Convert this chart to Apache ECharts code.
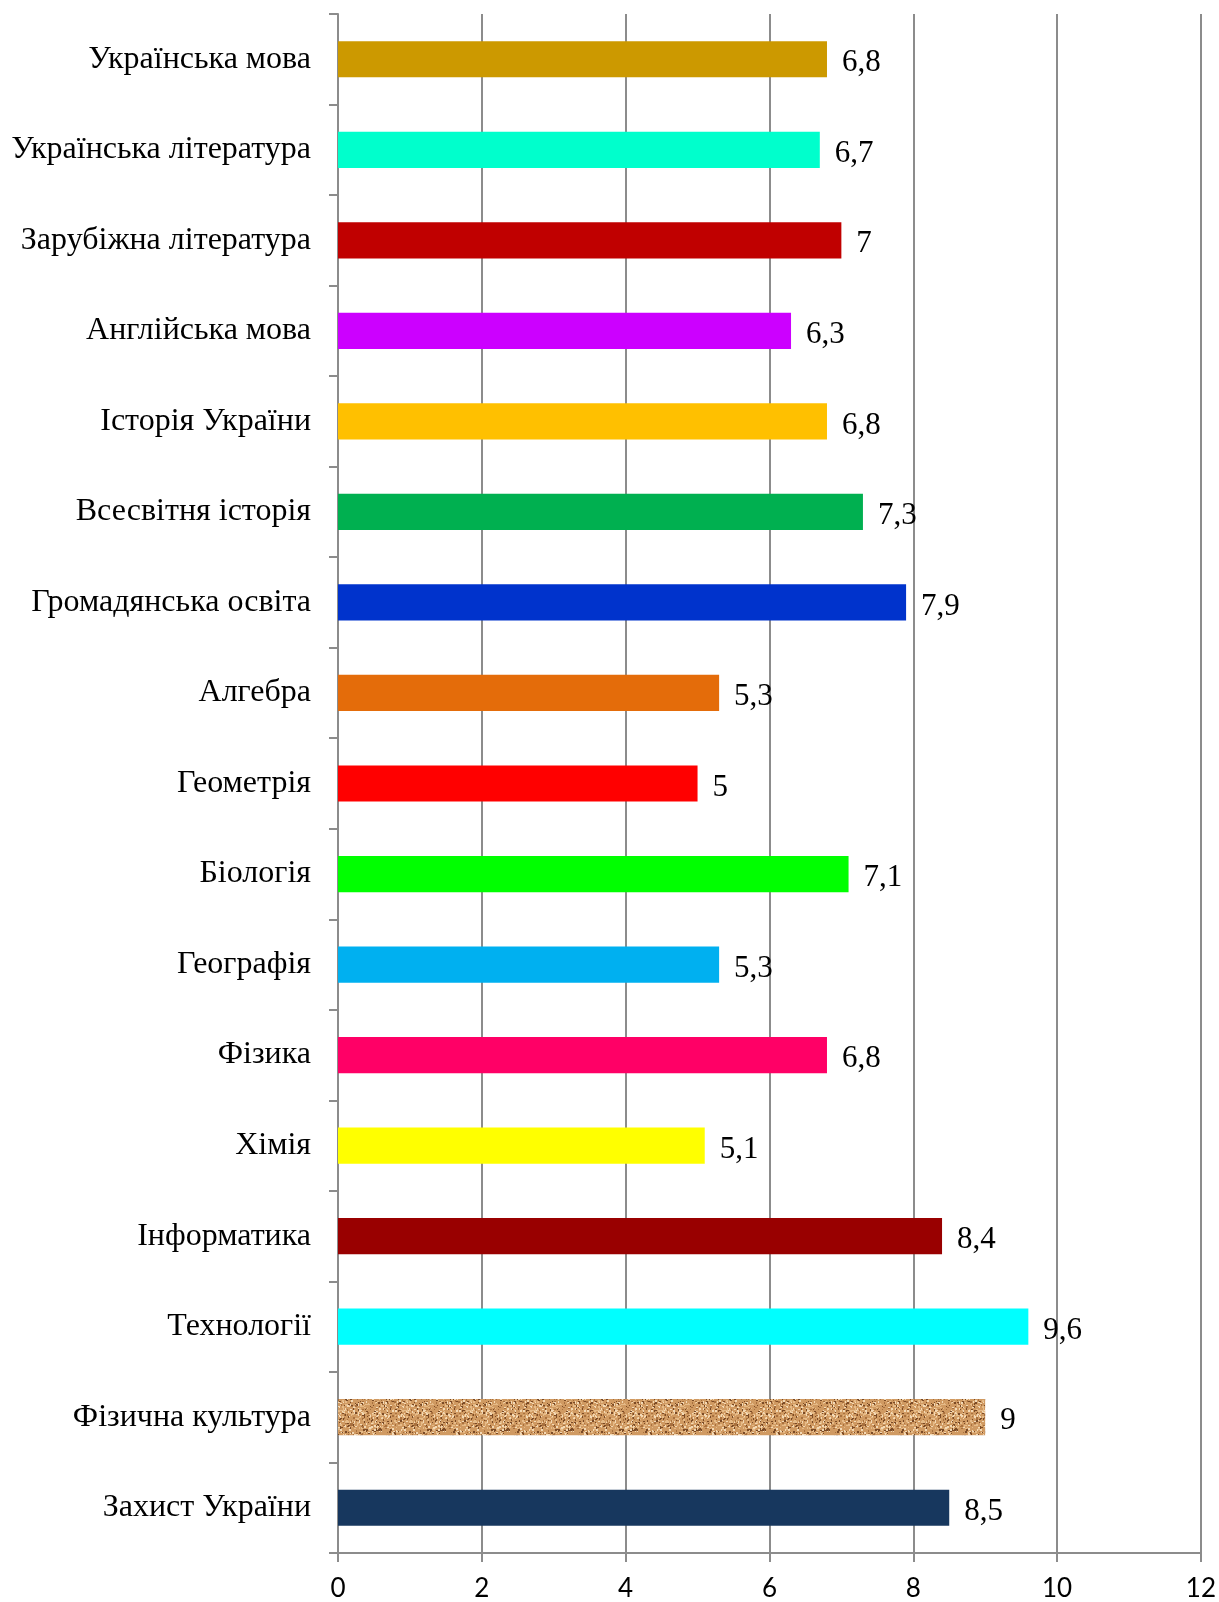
<!DOCTYPE html>
<html>
<head>
<meta charset="utf-8">
<script src="https://cdn.jsdelivr.net/npm/echarts@6/dist/echarts.min.js"></script>
<style>
  html, body { margin: 0; padding: 0; background: #fff; }
  #chart { width: 1219px; height: 1602px; }
</style>
</head>
<body>
<div id="chart"></div>
<script>
const subjects = ['Українська мова', 'Українська література', 'Зарубіжна література', 'Англійська мова',
  'Історія України', 'Всесвітня історія', 'Громадянська освіта', 'Алгебра', 'Геометрія', 'Біологія',
  'Географія', 'Фізика', 'Хімія', 'Інформатика', 'Технології', 'Фізична культура', 'Захист України']
const scores = [6.8, 6.7, 7, 6.3, 6.8, 7.3, 7.9, 5.3, 5, 7.1, 5.3, 6.8, 5.1, 8.4, 9.6, 9, 8.5]
const barColors = ['#cc9900', '#00ffcc', '#c00000', '#cc00ff', '#ffc000', '#00b050', '#0033cc', '#e46c0a',
  '#ff0000', '#00ff00', '#00b0f0', '#ff0066', '#ffff00', '#990000', '#00ffff', 'cork', '#17375e']
const xTicks = [0, 2, 4, 6, 8, 10, 12]

// cork-like texture for "Фізична культура"
function corkPattern() {
  const c = document.createElement('canvas')
  c.width = 64; c.height = 64
  const ctx = c.getContext('2d')
  ctx.fillStyle = '#d09a62'
  ctx.fillRect(0, 0, 64, 64)
  let s = 12345
  const rnd = () => { s = (s * 1103515245 + 12345) & 0x7fffffff; return s / 0x7fffffff }
  for (let i = 0; i < 900; i++) {
    const x = Math.floor(rnd() * 64), y = Math.floor(rnd() * 64)
    const r = rnd()
    ctx.fillStyle = r < 0.25 ? '#7a4a26' : r < 0.45 ? '#a8703e' : r < 0.75 ? '#e6bb88' : '#f3d9b5'
    ctx.fillRect(x, y, 1 + Math.floor(rnd() * 2), 1 + Math.floor(rnd() * 2))
  }
  return c
}

const cork = corkPattern()
const chart = echarts.init(document.getElementById('chart'))
chart.setOption({
  backgroundColor: '#ffffff',
  animation: false,
  grid: { left: 338, right: 18, top: 14, bottom: 48, containLabel: false },
  xAxis: {
    type: 'value',
    min: 0,
    max: 12,
    interval: 2,
    axisLine: { show: true, lineStyle: { color: '#8c8c8c', width: 2 } },
    axisTick: { show: true, length: 9, lineStyle: { color: '#8c8c8c', width: 2 } },
    splitLine: { show: true, lineStyle: { color: '#8c8c8c', width: 2 } },
    axisLabel: {
      margin: 23,
      fontFamily: 'Lato',
      fontSize: 26,
      color: '#000',
      formatter: v => xTicks.includes(v) ? String(v) : ''
    }
  },
  yAxis: {
    type: 'category',
    inverse: true,
    data: subjects,
    axisLine: { show: true, lineStyle: { color: '#8c8c8c', width: 2 } },
    axisTick: { show: true, length: 9, lineStyle: { color: '#8c8c8c', width: 2 } },
    axisLabel: {
      margin: 27,
      fontFamily: 'Liberation Serif',
      fontSize: 32,
      color: '#000',
      padding: [10, 0, 0, 0]
    }
  },
  series: [{
    type: 'bar',
    barWidth: '40%',
    data: scores.map((v, i) => ({
      value: v,
      itemStyle: { color: barColors[i] === 'cork' ? { image: cork, repeat: 'repeat' } : barColors[i] }
    })),
    label: {
      show: true,
      position: 'right',
      distance: 15,
      offset: [0, 4],
      fontFamily: 'Liberation Serif',
      fontSize: 31,
      color: '#000',
      formatter: p => String(p.value).replace('.', ',')
    }
  }]
})
</script>
</body>
</html>
